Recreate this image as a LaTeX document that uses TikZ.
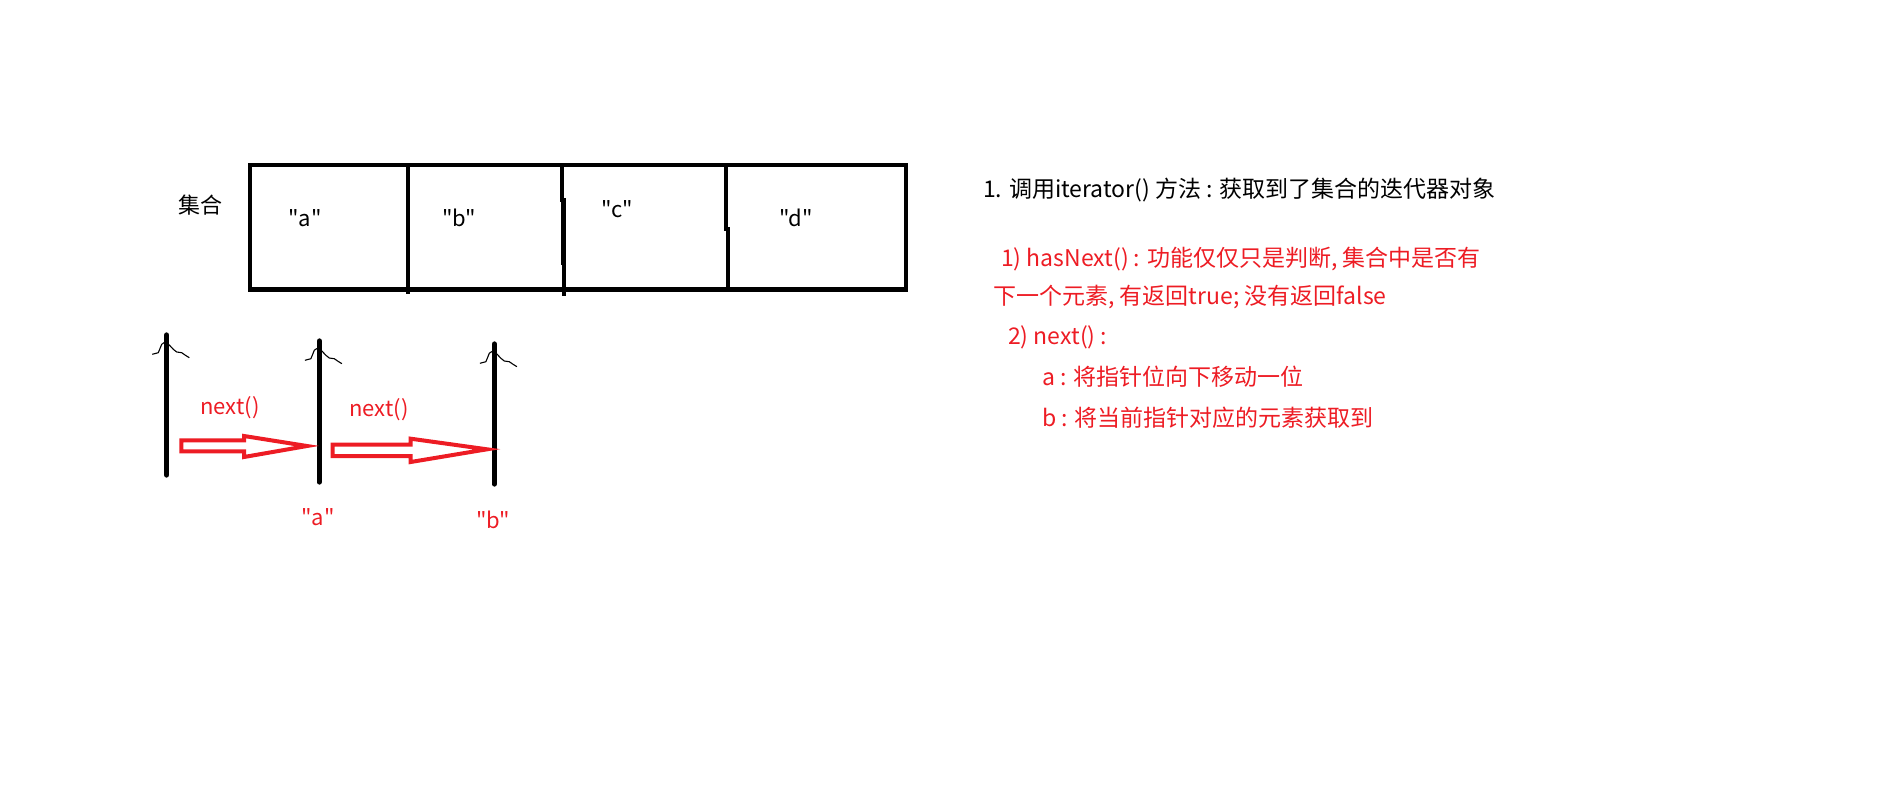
\documentclass[tikz,border=0pt]{standalone}
\usepackage{fontspec}
\newfontfamily\yh{Noto Sans CJK SC}
\definecolor{pred}{HTML}{ED1C24}
\begin{document}
\begin{tikzpicture}[x=1pt,y=-1pt,
  boxline/.style={line width=4.3pt},
  pole/.style={line width=5.3pt,line cap=round},
  scribble/.style={line width=1.1pt,line join=round},
  hollow/.style={draw=pred,line width=4pt,line join=miter},
  txt/.style={font=\yh\fontsize{22}{26}\selectfont,inner sep=0pt},
  lft/.style={font=\yh\fontsize{23}{27}\selectfont,inner sep=0pt,anchor=west},
  redt/.style={text=pred}]
\useasboundingbox (0,0) rectangle (1895,787);
% collection box
\draw[boxline] (250,164.7) rectangle (906,289.5);
\draw[boxline] (407.7,164.7) -- (407.7,294);
\draw[boxline] (562,164.7) -- (562,200) -- (563.5,200) -- (563.5,263) -- (564.3,263) -- (564.3,296);
\draw[boxline] (726.3,164.7) -- (726.3,229) -- (727.7,229) -- (727.7,289.5);
\node[txt] (coll) at (200,205) {集合};
\node[txt] (ca) at (305,218) {"a"};
\node[txt] (cb) at (459,218) {"b"};
\node[txt] (cc) at (617,209) {"c"};
\node[txt] (cd) at (796,218) {"d"};
% pointer poles
\foreach \n/\x/\t/\b in {p0/166.7/335/475, p1/319.3/341/482, p2/494.3/344/484}{
  \coordinate (\n top) at (\x,\t);
  \coordinate (\n bot) at (\x,\b);
  \draw[pole] (\n top) -- (\n bot);
  \draw[scribble,shift={(\n top)}] (-14.4,19.3) -- (-8.4,17.7) -- (-5,9.3) -- (-2.7,7.7) -- (2.6,10) -- (6.6,14.3) -- (10,17) -- (15,17.7) -- (18.3,20) -- (22.6,22.7);
}
% hollow arrows
\draw[hollow] (181.3,440.3) -- (244,440.3) -- (244,436) -- (307,446) -- (244,457) -- (244,451.3) -- (181.3,451.3) -- cycle;
\draw[hollow] (332.7,444.7) -- (410.7,444.7) -- (410.7,438.7) -- (487,449.3) -- (410.7,462) -- (410.7,456) -- (332.7,456) -- cycle;
\node[txt,redt] (n1) at (230,408) {next()};
\node[txt,redt] (n2) at (379,410) {next()};
\node[txt,redt] (ra) at (318,517) {"a"};
\node[txt,redt] (rb) at (493,520) {"b"};
% explanation
\node[lft] (t1) at (983,190) {1. 调用iterator() 方法 : 获取到了集合的迭代器对象};
\node[lft,redt] (t2) at (1001,259) {1) hasNext() : 功能仅仅只是判断, 集合中是否有};
\node[lft,redt] (t3) at (993,297) {下一个元素, 有返回true; 没有返回false};
\node[lft,redt] (t4) at (1008,337) {2) next() :};
\node[lft,redt] (t5) at (1042,377) {a : 将指针位向下移动一位};
\node[lft,redt] (t6) at (1042,418) {b : 将当前指针对应的元素获取到};
\end{tikzpicture}
\end{document}
